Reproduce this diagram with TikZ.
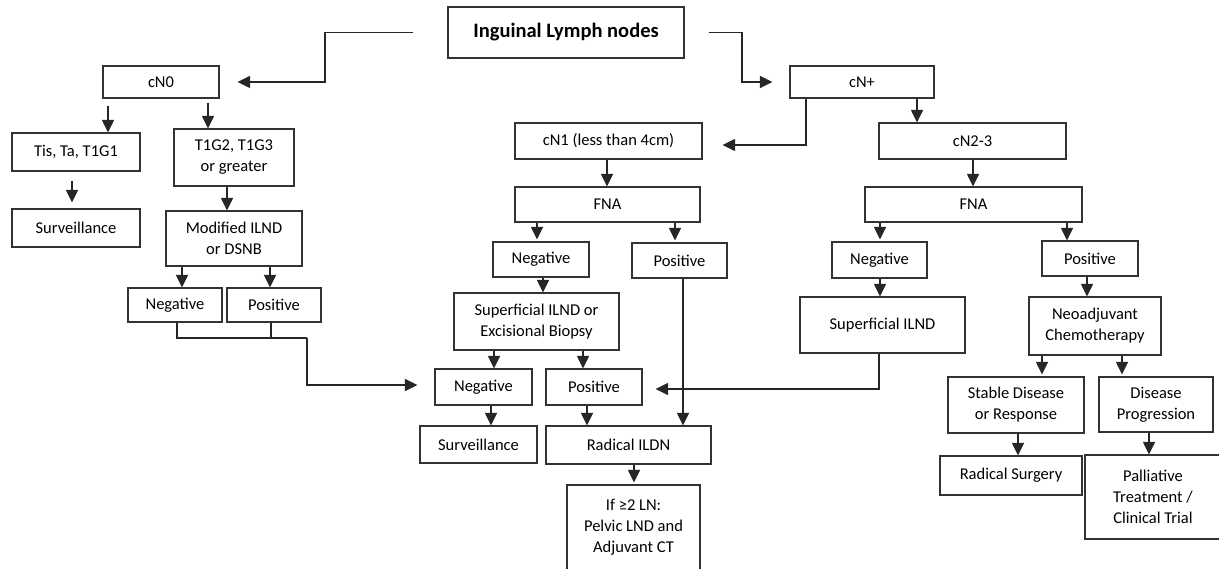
\documentclass[tikz,border=0pt]{standalone}
\usepackage{fontspec}
\setmainfont{Carlito}
\usetikzlibrary{arrows.meta}
\begin{document}
\begin{tikzpicture}[x=1pt,y=-1pt,
  box/.style={draw=black!80, line width=1.1pt, align=center, inner sep=0pt,
    font=\fontsize{16.5}{21}\selectfont},
  title/.style={box, font=\fontsize{20.5}{24}\selectfont\bfseries},
  line/.style={draw=black!85, line width=1.1pt},
  arr/.style={line, -{Triangle[length=12.5pt,width=12pt]}},
]
\useasboundingbox (0,0) rectangle (1219,569);

% nodes
\node[title, minimum width=236pt, minimum height=51pt] (ing) at (566,32.5) {Inguinal Lymph nodes};
\node[box, minimum width=116pt, minimum height=32pt] (cn0) at (161,82) {cN0};
\node[box, minimum width=144pt, minimum height=32pt] (cnp) at (862,82) {cN+};
\node[box, minimum width=128pt, minimum height=38pt] (tis) at (76,152) {Tis, Ta, T1G1};
\node[box, minimum width=120pt, minimum height=57pt] (t1g2) at (234,157.5) {T1G2, T1G3\\or greater};
\node[box, minimum width=128pt, minimum height=38pt] (surv1) at (76,228) {Surveillance};
\node[box, minimum width=136pt, minimum height=55pt] (mod) at (234,238.5) {Modified ILND\\or DSNB};
\node[box, minimum width=94pt, minimum height=34pt] (neg0) at (175,305) {Negative};
\node[box, minimum width=94pt, minimum height=34pt] (pos0) at (274,305) {Positive};
\node[box, minimum width=187pt, minimum height=36pt] (cn1) at (608.5,141) {cN1 (less than 4cm)};
\node[box, minimum width=187pt, minimum height=36pt] (cn23) at (972.5,141) {cN2-3};
\node[box, minimum width=185pt, minimum height=35pt] (fna1) at (607.5,204.5) {FNA};
\node[box, minimum width=217pt, minimum height=35pt] (fna2) at (973.5,204.5) {FNA};
\node[box, minimum width=96pt, minimum height=35pt] (neg1) at (541,259.5) {Negative};
\node[box, minimum width=95pt, minimum height=35pt] (pos1) at (679.5,260.5) {Positive};
\node[box, minimum width=165pt, minimum height=57pt] (sup1) at (536.5,321.5) {Superficial ILND or\\Excisional Biopsy};
\node[box, minimum width=97pt, minimum height=36pt] (neg2) at (483.5,387) {Negative};
\node[box, minimum width=96pt, minimum height=36pt] (pos2) at (594,387) {Positive};
\node[box, minimum width=117pt, minimum height=37pt] (surv2) at (478.5,444.5) {Surveillance};
\node[box, minimum width=165pt, minimum height=38pt] (rad) at (628.5,445) {Radical ILDN};
\node[box, minimum width=133pt, minimum height=85pt] (ifln) at (633.5,527.5) {If ≥2 LN:\\Pelvic LND and\\Adjuvant CT};
\node[box, minimum width=95pt, minimum height=36pt] (neg3) at (879.5,260) {Negative};
\node[box, minimum width=96pt, minimum height=35pt] (pos3) at (1090,258.5) {Positive};
\node[box, minimum width=165pt, minimum height=56pt] (sup2) at (882.5,325) {Superficial ILND};
\node[box, minimum width=132pt, minimum height=58pt] (neo) at (1095,326) {Neoadjuvant\\Chemotherapy};
\node[box, minimum width=136pt, minimum height=56pt] (stable) at (1016,405) {Stable Disease\\or Response};
\node[box, minimum width=114pt, minimum height=55pt] (prog) at (1156,404.5) {Disease\\Progression};
\node[box, minimum width=142pt, minimum height=39pt] (radsurg) at (1011,475.5) {Radical Surgery};
\node[box, minimum width=136pt, minimum height=84pt] (pall) at (1153,497) {Palliative\\Treatment /\\Clinical Trial};

% top-level connectors
\draw[arr, shorten <=34pt, shorten >=18pt] (ing.west) -- (325,32.5) -- (325,82) -- (cn0.east);
\draw[arr, shorten <=24pt, shorten >=17pt] (ing.east) -- (742,32.5) -- (742,82) -- (cnp.west);
\draw[arr, shorten >=20pt] (cnp.south -| 806,0) -- (806,145) -- (cn1.east |- 0,145);
\draw[arr] (cnp.south -| 917,0) -- (cn23.north -| 917,0);

% cN0 branch
\draw[arr, shorten <=7pt] (cn0.south -| 108,0) -- (tis.north -| 108,0);
\draw[arr, shorten <=4pt] (cn0.south -| 208,0) -- (t1g2.north -| 208,0);
\draw[arr, shorten <=9pt, shorten >=6pt] (tis.south -| 72,0) -- (surv1.north -| 72,0);
\draw[arr] (t1g2.south -| 227,0) -- (mod.north -| 227,0);
\draw[arr] (mod.south -| 182,0) -- (neg0.north -| 182,0);
\draw[arr] (mod.south -| 270,0) -- (pos0.north -| 270,0);
\coordinate (j0) at (307,338);
\draw[line] (neg0.south -| 177,0) |- (j0);
\draw[line] (pos0.south -| 271,0) -- (271,338);
\draw[arr, shorten >=17pt] (j0) -- (307,385) -- (neg2.west |- 0,385);

% cN1 branch
\draw[arr] (cn1.south -| 607,0) -- (fna1.north -| 607,0);
\draw[arr, shorten >=2pt] (fna1.south -| 537,0) -- (neg1.north -| 537,0);
\draw[arr, shorten >=2pt] (fna1.south -| 675,0) -- (pos1.north -| 675,0);
\draw[arr] (neg1.south -| 543,0) -- (sup1.north -| 543,0);
\draw[arr] (pos1.south -| 683,0) -- (rad.north -| 683,0);
\draw[arr] (sup1.south -| 494,0) -- (neg2.north -| 494,0);
\draw[arr] (sup1.south -| 583,0) -- (pos2.north -| 583,0);
\draw[arr] (neg2.south -| 491,0) -- (surv2.north -| 491,0);
\draw[arr] (pos2.south -| 587,0) -- (rad.north -| 587,0);
\draw[arr, shorten >=2pt] (rad.south -| 634,0) -- (ifln.north -| 634,0);

% cN2-3 branch
\draw[arr] (cn23.south -| 973,0) -- (fna2.north -| 973,0);
\draw[arr, shorten >=2pt] (fna2.south -| 880,0) -- (neg3.north -| 880,0);
\draw[arr] (fna2.south -| 1067,0) -- (pos3.north -| 1067,0);
\draw[arr] (neg3.south -| 880,0) -- (sup2.north -| 880,0);
\draw[arr] (pos3.south -| 1087,0) -- (neo.north -| 1087,0);
\draw[arr, shorten >=13pt] (sup2.south -| 879,0) -- (879,389) -- (pos2.east |- 0,389);
\draw[arr, shorten >=2pt] (neo.south -| 1042,0) -- (stable.north -| 1042,0);
\draw[arr, shorten >=2pt] (neo.south -| 1122,0) -- (prog.north -| 1122,0);
\draw[arr] (stable.south -| 1018,0) -- (radsurg.north -| 1018,0);
\draw[arr] (prog.south -| 1149,0) -- (pall.north -| 1149,0);
\end{tikzpicture}
\end{document}
